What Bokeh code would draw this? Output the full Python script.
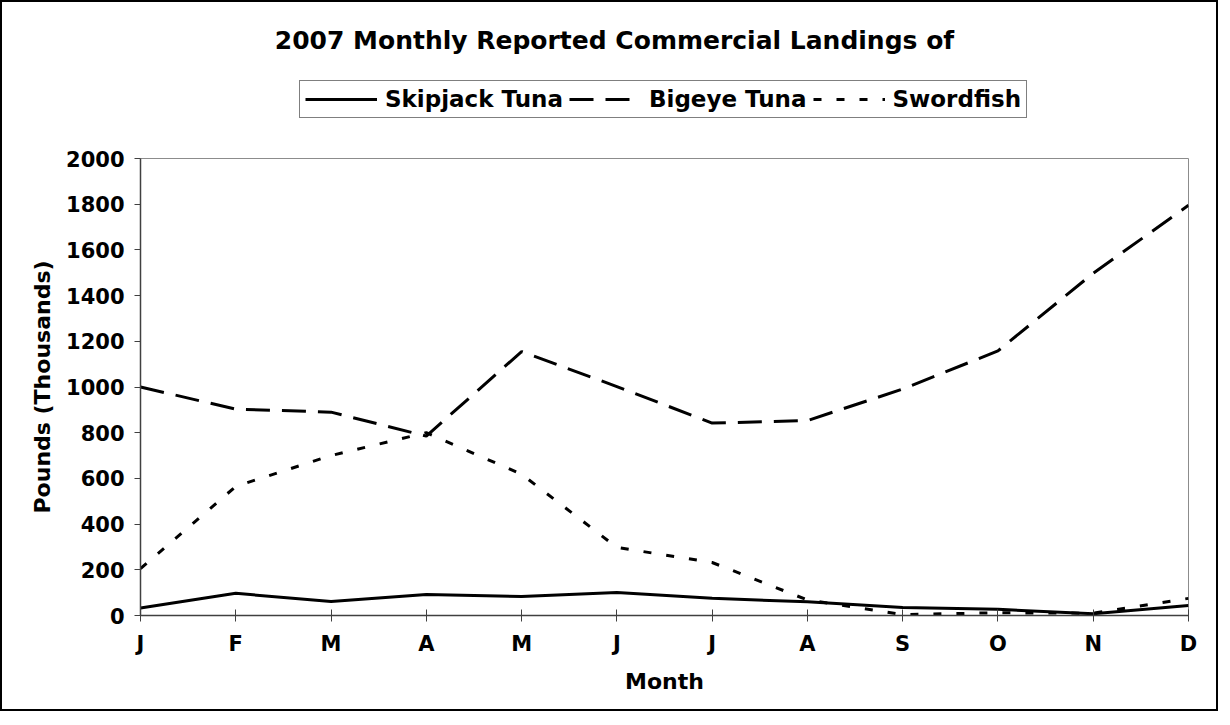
from bokeh.plotting import figure
from bokeh.layouts import column
from bokeh.models import Range1d, FixedTicker, Legend, LegendItem, Label
from bokeh.embed import file_html
from bokeh.resources import INLINE

# ---- data (thousands of pounds) ----
months = ["J", "F", "M", "A", "M", "J", "J", "A", "S", "O", "N", "D"]
skipjack = [33, 97, 61, 92, 83, 101, 75, 60, 35, 27, 8, 44]
bigeye = [1000, 903, 890, 785, 1155, 1002, 842, 853, 991, 1158, 1498, 1795]
swordfish = [205, 565, 700, 800, 618, 298, 232, 68, 4, 12, 10, 75]
y_ticks = [0, 200, 400, 600, 800, 1000, 1200, 1400, 1600, 1800, 2000]
series_names = ["Skipjack Tuna", "Bigeye Tuna", "Swordfish"]

FONT = "DejaVu Sans"
W = 1214
x = list(range(len(months)))
series = [skipjack, bigeye, swordfish]
dashes = ["solid", "24 12", "8 15"]

# ---------------- header: title + legend ----------------
# (its frame is aligned with the chart frame below by the column layout)
head = figure(width=W, height=142, output_backend="svg", toolbar_location=None,
              x_range=Range1d(0, 1), y_range=Range1d(-3000, -2000),
              x_axis_type=None, y_axis_type=None, min_border=0)
head.outline_line_color = None
head.xgrid.visible = False
head.ygrid.visible = False
head.background_fill_color = "white"
head.border_fill_color = "white"

head.add_layout(Label(x=474, y=104, x_units="screen", y_units="screen",
                      text="2007 Monthly Reported Commercial Landings of",
                      text_align="center", text_baseline="alphabetic",
                      text_font=FONT, text_font_style="bold",
                      text_font_size="25px", text_color="black"))

# legend keys: same series and styles, kept outside this header's view
keys = [head.line(x, vals, line_color="black", line_width=3, line_dash=d)
        for vals, d in zip(series, dashes)]
legend = Legend(items=[LegendItem(label=n, renderers=[k])
                       for n, k in zip(series_names, keys)],
                orientation="horizontal", location=(159, 26),
                glyph_width=72, glyph_height=20, label_standoff=8, spacing=6,
                padding=5, margin=0,
                border_line_color="black", border_line_width=1,
                background_fill_color="white", background_fill_alpha=1,
                label_text_font=FONT, label_text_font_style="bold",
                label_text_font_size="23px", label_text_color="black")
head.add_layout(legend, "center")

# ---------------- main chart ----------------
p = figure(width=W, height=565, output_backend="svg", toolbar_location=None,
           x_range=Range1d(0, len(months) - 1), y_range=Range1d(0, 2000),
           min_border_left=138, min_border_right=28, min_border_top=14,
           min_border_bottom=94)
p.background_fill_color = "white"
p.border_fill_color = "white"
p.outline_line_color = "#8c8c8c"
p.outline_line_width = 1
p.xgrid.visible = False
p.ygrid.visible = False

p.xaxis.ticker = FixedTicker(ticks=x)
p.xaxis.major_label_overrides = {i: m for i, m in enumerate(months)}
p.yaxis.ticker = FixedTicker(ticks=y_ticks)
for ax in (p.xaxis[0], p.yaxis[0]):
    ax.major_label_text_font = FONT
    ax.major_label_text_font_style = "bold"
    ax.major_label_text_font_size = "21px"
    ax.major_label_text_color = "black"
    ax.axis_label_text_font = FONT
    ax.axis_label_text_font_style = "bold"
    ax.axis_label_text_font_size = "22px"
    ax.axis_label_text_color = "black"
    ax.minor_tick_line_color = None
    ax.major_tick_line_color = "#404040"
    ax.axis_line_color = "#404040"
    ax.axis_line_width = 1.5
p.xaxis.major_tick_in = 6
p.xaxis.major_tick_out = 6
p.yaxis.major_tick_in = 0
p.yaxis.major_tick_out = 6
p.xaxis.major_label_standoff = 10
p.yaxis.major_label_standoff = 10
p.xaxis.axis_label = "Month"
p.yaxis.axis_label = "Pounds (Thousands)"
p.xaxis.axis_label_standoff = 10
p.yaxis.axis_label_standoff = 8

for vals, d in zip(series, dashes):
    p.line(x, vals, line_color="black", line_width=3, line_dash=d)

layout = column(head, p, spacing=0)
layout.styles = {"border": "2px solid black", "box-sizing": "content-box"}

open("out.html", "w").write(file_html(layout, INLINE))
